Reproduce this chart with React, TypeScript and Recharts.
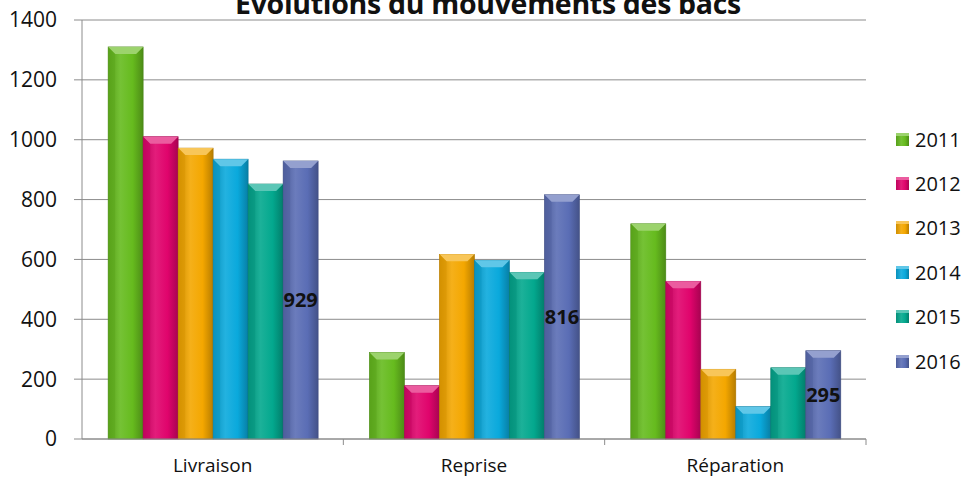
import React from "react";
import { BarChart, Bar, XAxis, YAxis, CartesianGrid, LabelList } from "recharts";

const categories = ["Livraison", "Reprise", "Réparation"];
const years = ["2011", "2012", "2013", "2014", "2015", "2016"];
const values2011 = [1310, 289, 719];
const values2012 = [1010, 178, 527];
const values2013 = [972, 617, 233];
const values2014 = [935, 597, 108];
const values2015 = [852, 557, 238];
const values2016 = [929, 816, 295];
const yTicks = [0, 200, 400, 600, 800, 1000, 1200, 1400];
const colors = ["#66bb1e", "#e0046c", "#f4a700", "#0aa9dc", "#03a88e", "#5a6db5"];
const title = "Evolutions du mouvements des bacs";

const seriesValues = [values2011, values2012, values2013, values2014, values2015, values2016];
const data = categories.map((c, i) => {
  const row: Record<string, any> = { name: c };
  years.forEach((y, k) => {
    row["y" + y] = seriesValues[k][i];
  });
  return row;
});

const FONT = "'Open Sans', 'DejaVu Sans', sans-serif";
const X_TICK_SIZE = 6;
const X_TICK_MARGIN = 14;

function shade(hex: string, f: number) {
  const n = parseInt(hex.slice(1), 16);
  let r = (n >> 16) & 255, g = (n >> 8) & 255, b = n & 255;
  if (f < 0) {
    r = Math.round(r * (1 + f)); g = Math.round(g * (1 + f)); b = Math.round(b * (1 + f));
  } else {
    r = Math.round(r + (255 - r) * f); g = Math.round(g + (255 - g) * f); b = Math.round(b + (255 - b) * f);
  }
  return `rgb(${r},${g},${b})`;
}

const makeShape = (k: number) => (props: any) => {
  const { x, y, width, height } = props;
  if (!height || height <= 0) return null;
  const b = Math.min(7, width / 5, height / 2);
  const c = colors[k];
  return (
    <g>
      <rect x={x} y={y} width={width} height={height} fill={`url(#grad${k})`} stroke={shade(c, -0.3)} strokeWidth={0.6} />
      <polygon
        points={`${x},${y} ${x + width},${y} ${x + width - b},${y + b} ${x + b},${y + b}`}
        fill={shade(c, 0.35)}
      />
      <polygon points={`${x},${y} ${x + b},${y + b} ${x + b},${y + height} ${x},${y + height}`} fill={shade(c, -0.12)} fillOpacity={0.5} />
    </g>
  );
};

const XTick = (props: any) => {
  const { x, y, payload, index, visibleTicksCount } = props;
  const half = payload && payload.offset ? payload.offset : 0;
  const axisY = y - X_TICK_SIZE - X_TICK_MARGIN;
  const isLast = index === (visibleTicksCount ?? categories.length) - 1;
  return (
    <g>
      {half > 0 && index > 0 && (
        <line x1={x - half} x2={x - half} y1={axisY} y2={axisY + 6} stroke="#8c8c8c" />
      )}
      {half > 0 && isLast && (
        <line x1={x + half} x2={x + half} y1={axisY} y2={axisY + 6} stroke="#8c8c8c" />
      )}
      <text x={x} y={y} dy="0.71em" textAnchor="middle" fill="#111" fontSize={19} fontFamily={FONT}>
        {payload.value}
      </text>
    </g>
  );
};

export default function App() {
  return (
    <div style={{ position: "absolute", left: 0, top: 0, width: 968, height: 484, background: "#fff", fontFamily: FONT }}>
      <div
        style={{
          position: "absolute",
          left: 0,
          width: 968,
          top: -16,
          textAlign: "center",
          fontWeight: 700,
          fontSize: 28.5,
          color: "#111",
          fontFamily: FONT,
          paddingLeft: 8,
          boxSizing: "border-box",
          letterSpacing: -0.3,
          whiteSpace: "nowrap",
        }}
      >
        {title}
      </div>
      <BarChart
        width={968}
        height={484}
        data={data}
        margin={{ top: 20, right: 102, bottom: 0, left: 0 }}
        barCategoryGap="10%"
        barGap={0}
      >
        <defs>
          {colors.map((c, k) => (
            <linearGradient key={k} id={`grad${k}`} x1="0" y1="0" x2="1" y2="0">
              <stop offset="0%" stopColor={shade(c, -0.15)} />
              <stop offset="35%" stopColor={shade(c, 0.1)} />
              <stop offset="70%" stopColor={c} />
              <stop offset="100%" stopColor={shade(c, -0.25)} />
            </linearGradient>
          ))}
        </defs>
        <CartesianGrid vertical={false} stroke="#8c8c8c" strokeWidth={1} />
        <XAxis
          dataKey="name"
          height={45}
          tickLine={false}
          tickSize={X_TICK_SIZE}
          tickMargin={X_TICK_MARGIN}
          axisLine={{ stroke: "#8c8c8c" }}
          tick={<XTick />}
        />
        <YAxis
          width={82}
          domain={[0, 1400]}
          ticks={yTicks}
          interval={0}
          tickSize={8}
          tickMargin={17}
          axisLine={{ stroke: "#8c8c8c" }}
          tickLine={{ stroke: "#8c8c8c" }}
          tick={{ fill: "#111", fontSize: 21, fontFamily: FONT }}
        />
        {years.map((yr, k) => (
          <Bar key={yr} dataKey={"y" + yr} name={yr} fill={colors[k]} shape={makeShape(k)} isAnimationActive={false}>
            {k === years.length - 1 && (
              <LabelList
                dataKey={"y" + yr}
                position="center"
                fill="#111"
                style={{ fontWeight: 700, fontSize: 20, fontFamily: FONT }}
              />
            )}
          </Bar>
        ))}
      </BarChart>
      <div style={{ position: "absolute", left: 896, top: 117 }}>
        {years.map((yr, k) => (
          <div key={yr} style={{ display: "flex", alignItems: "center", height: 44.4 }}>
            <div
              style={{
                width: 13,
                height: 13,
                background: `linear-gradient(90deg, ${shade(colors[k], -0.15)}, ${shade(colors[k], 0.1)} 40%, ${colors[k]} 70%, ${shade(colors[k], -0.25)})`,
                boxShadow: `inset 0 3px 0 ${shade(colors[k], 0.35)}`,
                marginRight: 6,
              }}
            />
            <span style={{ fontSize: 20, color: "#111", fontFamily: FONT }}>{yr}</span>
          </div>
        ))}
      </div>
    </div>
  );
}
